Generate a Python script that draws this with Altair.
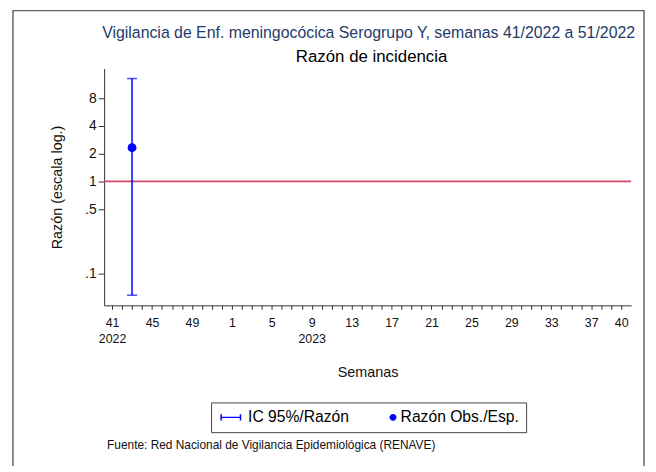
import json
import altair as alt
import pandas as pd

# ---------------- data ----------------
semanas = [41, 42, 43, 44, 45, 46, 47, 48, 49, 50, 51, 52,
           1, 2, 3, 4, 5, 6, 7, 8, 9, 10, 11, 12, 13, 14, 15, 16, 17, 18, 19, 20,
           21, 22, 23, 24, 25, 26, 27, 28, 29, 30, 31, 32, 33, 34, 35, 36, 37, 38, 39, 40]
etiquetas_semana = [41, 45, 49, 1, 5, 9, 13, 17, 21, 25, 29, 33, 37, 40]
etiquetas_anio = {0: "2022", 20: "2023"}   # position in semanas -> year label

semana_obs = [43]
razon_obs = [2.32]
ic_inferior = [0.058]
ic_superior = [13.1]

series = ["IC 95%/Razón", "Razón Obs./Esp."]
y_ticks = [0.1, 0.5, 1, 2, 4, 8]
referencia = [1]

titulo = "Vigilancia de Enf. meningocócica Serogrupo Y, semanas 41/2022 a 51/2022"
subtitulo = "Razón de incidencia"
fuente = "Fuente: Red Nacional de Vigilancia Epidemiológica (RENAVE)"

# ---------------- helpers ----------------
FONT = "Liberation Sans"
BLUE = "#0000ff"
RED = "#d2466a"
W, H = 532, 239

# x axis labels (index -> label, year on second line)
label_arr = []
for i, s in enumerate(semanas):
    if s in etiquetas_semana and (s != 41 or i == 0):
        label_arr.append([str(s), etiquetas_anio[i]] if i in etiquetas_anio else str(s))
    else:
        label_arr.append("")
x_label_expr = json.dumps(label_arr) + "[datum.value]"

df_obs = pd.DataFrame({
    "idx": [semanas.index(s) for s in semana_obs],
    "razon": razon_obs,
    "inf": ic_inferior,
    "sup": ic_superior,
})
df_ref = pd.DataFrame({"ref": referencia})
df_leg = pd.DataFrame({"idx": pd.Series([], dtype=float),
                       "razon": pd.Series([], dtype=float),
                       "serie": pd.Series([], dtype=str)})

xscale = alt.Scale(domain=[-0.8, 52], nice=False, zero=False)
yscale = alt.Scale(type="log", domain=[0.045, 16.8], nice=False)

x_axis = alt.Axis(
    values=list(range(len(semanas))), labelExpr=x_label_expr, labelOverlap=False,
    labelFlush=False, grid=False, tickSize=4, labelFontSize=12.5, labelPadding=7,
    labelLineHeight=16, title="Semanas", titleFontSize=14.5, titleFontWeight="normal",
    titlePadding=21, labelBaseline="top",
)
y_axis = alt.Axis(
    values=y_ticks,
    labelExpr="datum.value < 1 ? replace(format(datum.value, '.1f'), '0.', '.') : format(datum.value, 'd')",
    grid=False, tickSize=6, labelFontSize=14, labelPadding=2,
    title="Razón (escala log.)", titleFontSize=14.5, titleFontWeight="normal", titlePadding=20,
)

X = alt.X("idx:Q", scale=xscale, axis=x_axis)

ref_rule = alt.Chart(df_ref).mark_rule(color=RED, strokeWidth=1.6).encode(
    y=alt.Y("ref:Q", scale=yscale, axis=y_axis)
)

errbar = alt.Chart(df_obs).mark_rule(color=BLUE, strokeWidth=1.5).encode(
    x=X, y=alt.Y("inf:Q", scale=yscale, axis=y_axis), y2="sup:Q"
)
cap_top = alt.Chart(df_obs).mark_tick(color=BLUE, thickness=1.5, size=10, orient="horizontal").encode(
    x=X, y=alt.Y("sup:Q", scale=yscale, axis=y_axis)
)
cap_bot = alt.Chart(df_obs).mark_tick(color=BLUE, thickness=1.5, size=10, orient="horizontal").encode(
    x=X, y=alt.Y("inf:Q", scale=yscale, axis=y_axis)
)

puntos = alt.Chart(df_obs).mark_point(filled=True, opacity=1, size=80, shape="circle", color=BLUE).encode(
    x=X, y=alt.Y("razon:Q", scale=yscale, axis=y_axis)
)

# legend glyphs: CI bar with end caps, and a dot placed close to its label
eb_path = ("M-1.57,-0.21H4.43V0.21H-1.57Z "
           "M-1.57,-0.9H-1.14V0.9H-1.57Z "
           "M4.0,-0.9H4.43V0.9H4.0Z")
dot_path = "M-1.57,-0.9M3.2,0A1,1 0 1,0 5.2,0A1,1 0 1,0 3.2,0Z"

legend = alt.Legend(
    title=None, orient="none", legendX=108, legendY=337, direction="horizontal",
    padding=7, labelFontSize=15.8, labelFont=FONT, labelOffset=14.5, columnPadding=20,
    symbolSize=49, strokeColor="#444", fillColor="white", symbolOpacity=1,
)

leyenda = alt.Chart(df_leg).mark_point(filled=True, opacity=1).encode(
    x=X,
    y=alt.Y("razon:Q", scale=yscale, axis=y_axis),
    color=alt.Color("serie:N", scale=alt.Scale(domain=series, range=[BLUE, BLUE]), legend=legend),
    shape=alt.Shape("serie:N", scale=alt.Scale(domain=series, range=[eb_path, dot_path]), legend=legend),
)

one = pd.DataFrame({"t": [titulo], "s": [subtitulo], "f": [fuente]})

title_txt = alt.Chart(one).mark_text(
    align="center", baseline="middle", fontSize=16, font=FONT, color="#1f3b6b"
).encode(x=alt.value(W / 2 + 1), y=alt.value(-36), text="t:N")
sub_txt = alt.Chart(one).mark_text(
    align="center", baseline="middle", fontSize=17, font=FONT, color="#000"
).encode(x=alt.value(W / 2 + 4), y=alt.value(-12), text="s:N")
footer = alt.Chart(one).mark_text(
    align="left", baseline="middle", fontSize=12, font=FONT, color="#111"
).encode(x=alt.value(3), y=alt.value(380), text="f:N")

frame = alt.Chart(pd.DataFrame({"a": [0]})).mark_rect(
    fillOpacity=0, stroke="#666", strokeWidth=1.5
).encode(x=alt.value(-92), x2=alt.value(545), y=alt.value(-58.5), y2=alt.value(430))

chart = alt.layer(frame, ref_rule, errbar, cap_top, cap_bot, puntos, leyenda,
                  title_txt, sub_txt, footer).properties(
    width=W, height=H,
    autosize=alt.AutoSizeParams(type="none"),
    padding={"left": 97, "top": 59, "right": 17, "bottom": 160},
).configure_view(stroke=None).configure_axis(
    domainColor="#333", tickColor="#333", labelColor="#111", titleColor="#111",
    labelFont=FONT, titleFont=FONT,
)

chart.save("out.html", embed_options={"renderer": "svg", "actions": False})
